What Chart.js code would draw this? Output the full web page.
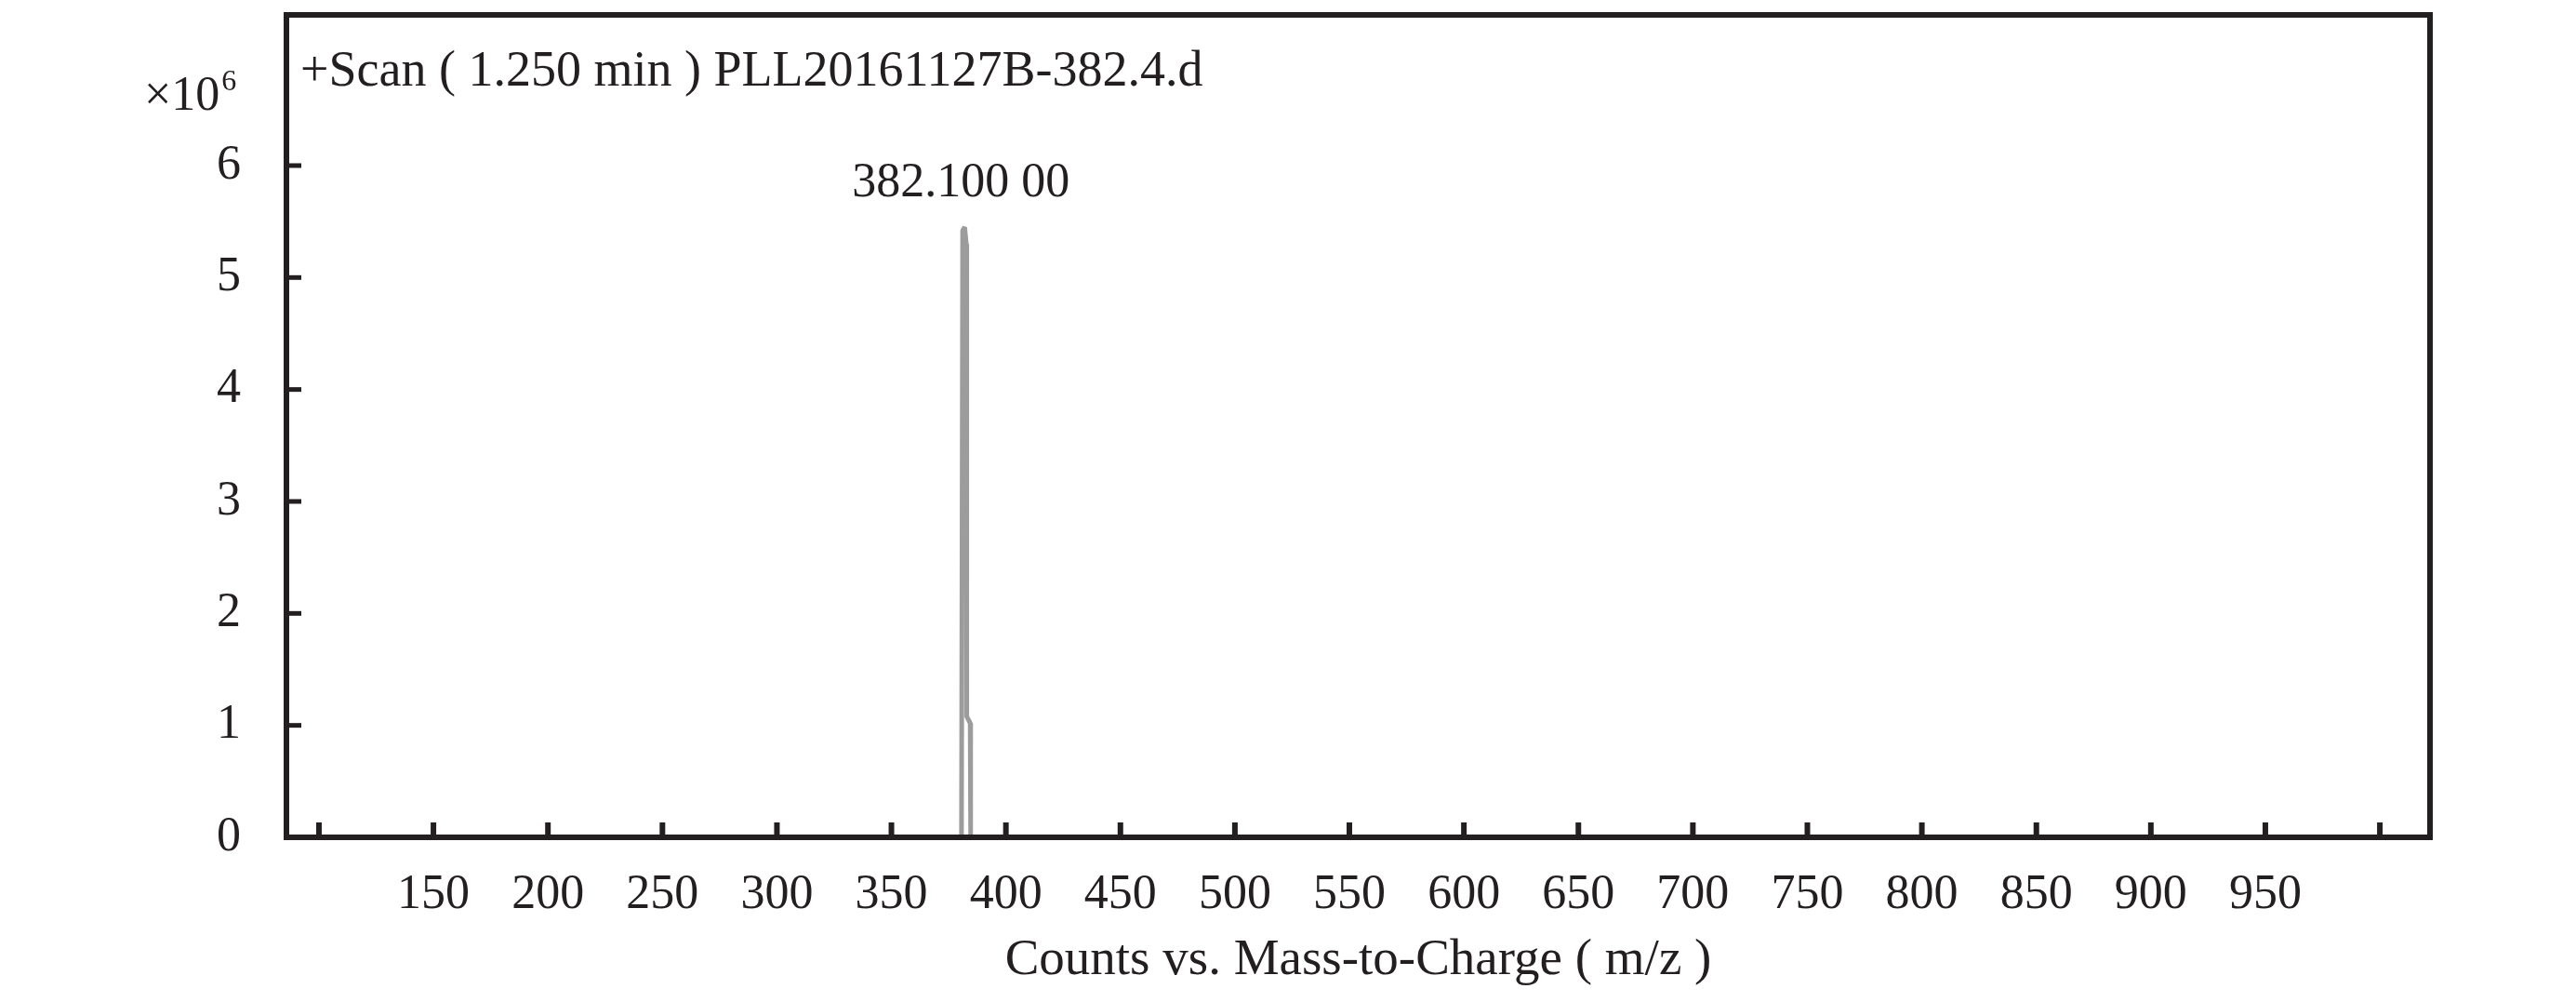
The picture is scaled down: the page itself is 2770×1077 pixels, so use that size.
<!DOCTYPE html>
<html>
<head>
<meta charset="utf-8">
<title>Mass spectrum</title>
<script src="https://cdn.jsdelivr.net/npm/chart.js@4.4.1/dist/chart.umd.min.js"></script>
<style>
  html, body { margin: 0; padding: 0; background: #fff; }
  canvas { display: block; }
</style>
</head>
<body>
<canvas id="spectrumChart" width="2770" height="1077"></canvas>
<script>
// profile points: m/z and counts (x10^6)
const mzValues = [85.8, 380.6, 381.1, 382.0, 382.7, 382.9, 384.4, 384.6, 1021.9];
const intensityValues = [0, 0, 5.42, 5.45, 5.30, 1.08, 1.02, 0, 0];

// axis ticks
const xTickValues = [100, 150, 200, 250, 300, 350, 400, 450, 500, 550, 600, 650, 700, 750, 800, 850, 900, 950, 1000];
const xTickLabels = ["", "150", "200", "250", "300", "350", "400", "450", "500", "550", "600", "650", "700", "750", "800", "850", "900", "950", ""];
const yTickValues = [0, 1, 2, 3, 4, 5, 6];
const yTickLabels = ["0", "1", "2", "3", "4", "5", "6"];

// texts
const scanTitle = "+Scan ( 1.250 min ) PLL20161127B-382.4.d";
const peakLabel = "382.100 00";
const xAxisTitle = "Counts vs. Mass-to-Charge ( m/z )";

const INK = "#231f20";
const SERIF = '"Liberation Serif", "DejaVu Serif", serif';

// keep the plot box exactly where the axes are set, no label overhang
function noOverhang(s) {
  s.paddingTop = 0;
  s.paddingBottom = 0;
  s.paddingLeft = 0;
  s.paddingRight = 0;
}

// frame, inward ticks and the extra labels
const frameAndLabels = {
  id: "frameAndLabels",
  afterDatasetsDraw(chart) {
    const { ctx, chartArea: a, scales } = chart;
    ctx.save();
    ctx.strokeStyle = INK;
    ctx.lineCap = "butt";

    // tick marks pointing into the plot
    ctx.lineWidth = 6;
    xTickValues.forEach(v => {
      const x = scales.x.getPixelForValue(v);
      ctx.beginPath();
      ctx.moveTo(x, a.bottom);
      ctx.lineTo(x, a.bottom - 16);
      ctx.stroke();
    });
    ctx.lineWidth = 5;
    yTickValues.forEach(v => {
      const y = scales.y.getPixelForValue(v);
      ctx.beginPath();
      ctx.moveTo(a.left, y);
      ctx.lineTo(a.left + 16, y);
      ctx.stroke();
    });

    // box
    ctx.lineWidth = 6;
    ctx.strokeRect(a.left, a.top, a.right - a.left, a.bottom - a.top);

    ctx.fillStyle = INK;
    ctx.textBaseline = "alphabetic";

    // scan title
    ctx.textAlign = "left";
    ctx.font = "54px " + SERIF;
    ctx.fillText(scanTitle, a.left + 15, a.top + 76);

    // peak label above highest point
    const meta = chart.getDatasetMeta(0);
    let top = meta.data[0];
    meta.data.forEach(p => { if (p.y < top.y) top = p; });
    ctx.textAlign = "center";
    ctx.font = "52px " + SERIF;
    ctx.fillText(peakLabel, top.x - 4, top.y - 33);

    // x10^6 multiplier
    ctx.textAlign = "left";
    ctx.font = "52px " + SERIF;
    const base = "\u00d710";
    ctx.fillText(base, 155, 118);
    const w = ctx.measureText(base).width;
    ctx.font = "32px " + SERIF;
    ctx.fillText("6", 155 + w + 2, 97);

    ctx.restore();
  }
};

new Chart(document.getElementById("spectrumChart"), {
  type: "line",
  data: {
    datasets: [{
      data: mzValues.map((x, i) => ({ x: x, y: intensityValues[i] })),
      borderColor: "#9c9c9c",
      borderWidth: 5,
      borderJoinStyle: "bevel",
      pointRadius: 0,
      tension: 0,
      fill: false
    }]
  },
  options: {
    responsive: false,
    animation: false,
    devicePixelRatio: 1,
    layout: { padding: { left: 0, top: 16, right: 157, bottom: 0 } },
    plugins: {
      legend: { display: false },
      tooltip: { enabled: false }
    },
    scales: {
      x: {
        type: "linear",
        min: 85.8,
        max: 1021.9,
        afterFit: s => { s.height = 177; noOverhang(s); },
        afterBuildTicks: s => { s.ticks = xTickValues.map(v => ({ value: v })); },
        ticks: {
          callback: (v, i) => xTickLabels[i],
          autoSkip: false,
          maxRotation: 0,
          padding: 23,
          color: INK,
          font: { family: SERIF, size: 52 }
        },
        grid: { display: false },
        border: { display: false },
        title: {
          display: true,
          text: xAxisTitle,
          color: INK,
          font: { family: SERIF, size: 55 },
          padding: { top: 0, bottom: 11 }
        }
      },
      y: {
        min: 0,
        max: 7.346,
        afterFit: s => { s.width = 308; noOverhang(s); },
        afterBuildTicks: s => { s.ticks = yTickValues.map(v => ({ value: v })); },
        ticks: {
          callback: (v, i) => yTickLabels[i],
          padding: 41,
          color: INK,
          font: { family: SERIF, size: 52 }
        },
        grid: { display: false },
        border: { display: false }
      }
    }
  },
  plugins: [frameAndLabels]
});
</script>
</body>
</html>
